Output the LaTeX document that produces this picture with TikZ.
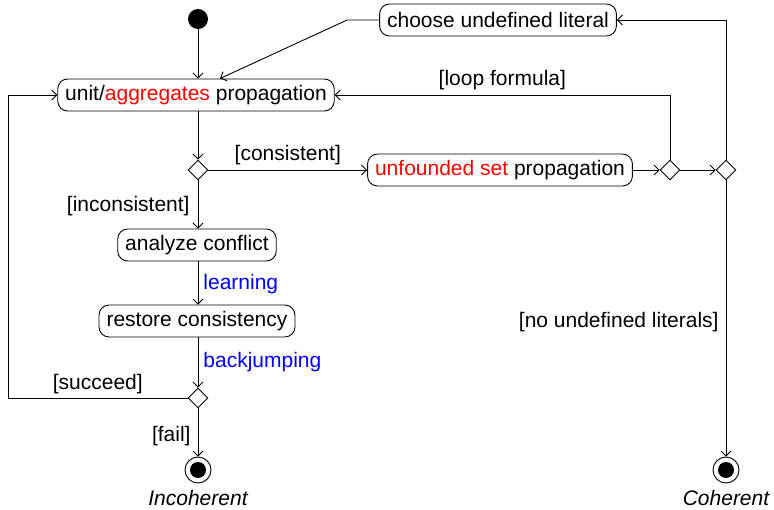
\documentclass[tikz,border=0pt]{standalone}
\usepackage{fontspec}
\setmainfont{Liberation Sans}
\usetikzlibrary{shapes.geometric,arrows.meta}
\begin{document}
\begin{tikzpicture}[x=1pt,y=-1pt,
  font=\fontsize{21}{25}\selectfont,
  line width=0.9pt,
  act/.style={draw,rounded corners=10pt,minimum height=32pt,inner xsep=7.5pt,inner ysep=0pt},
  dec/.style={draw,diamond,aspect=1,minimum width=20pt,minimum height=20pt,inner sep=0pt},
  fin/.style={draw,circle,minimum size=26pt,inner sep=0pt},
  flow/.style={-{Straight Barb[length=5pt,width=10pt]}},
  guard/.style={inner sep=3pt},
  note/.style={text=blue}]
\useasboundingbox (0,0) rectangle (774,510);

% nodes
\fill (198,19) circle (10) coordinate (start);
\node[act] (unit) at (196,95) {unit/\textcolor{red}{aggregates} propagation};
\node[dec] (d1) at (198,170) {};
\node[act] (uf) at (500,170) {\textcolor{red}{unfounded set} propagation};
\node[dec] (d2) at (670,170) {};
\node[dec] (d3) at (726,170) {};
\node[act] (choose) at (498,20) {choose undefined literal};
\node[act] (analyze) at (197,245) {analyze conflict};
\node[act] (restore) at (197,321) {restore consistency};
\node[dec] (d4) at (198,398) {};
\node[fin] (inc) at (198,470) {};
\fill (inc.center) circle (8);
\node[fin] (coh) at (726,470) {};
\fill (coh.center) circle (8);
\node[font=\fontsize{21}{25}\selectfont\itshape] at (198,498) {Incoherent};
\node[font=\fontsize{21}{25}\selectfont\itshape] at (726,498) {Coherent};
\coordinate (back) at (8,398);

% connectors
\draw[flow] (start) -- (start |- unit.north);
\draw[flow] (unit.south -| d1.north) -- (d1.north);
\draw[flow] (d1.east) -- node[guard,above,yshift=2pt] {[consistent]} (uf.west);
\draw[flow] (uf.east) -- (d2.west);
\draw[flow] (d2.east) -- (d3.west);
\draw[flow] (d3.north) |- (choose.east);
\draw[flow] (d2.north) |- node[guard,pos=0.75,above,yshift=2pt] {[loop formula]} (unit.east);
\draw[flow] (choose.west) -- ++(-32,0) -- ([xshift=24pt]unit.north);
\draw[flow] (d1.south) -- node[guard,left,xshift=-5pt,yshift=-2pt] {[inconsistent]} (analyze.north -| d1.south);
\draw[flow] (analyze.south -| d1.south) -- node[guard,right,note,xshift=2pt,yshift=-1pt] {learning} (restore.north -| d1.south);
\draw[flow] (restore.south -| d1.south) -- node[guard,right,note,xshift=2pt] {backjumping} (d4.north);
\draw[flow] (d4.west) -- node[guard,above,yshift=1pt] {[succeed]} (back) |- (unit.west);
\draw[flow] (d4.south) -- node[guard,left,xshift=-4pt,yshift=-4pt] {[fail]} (inc.north);
\draw[flow] (d3.south) -- node[guard,left,xshift=-4pt,yshift=-4pt] {[no undefined literals]} (coh.north);
\end{tikzpicture}
\end{document}
